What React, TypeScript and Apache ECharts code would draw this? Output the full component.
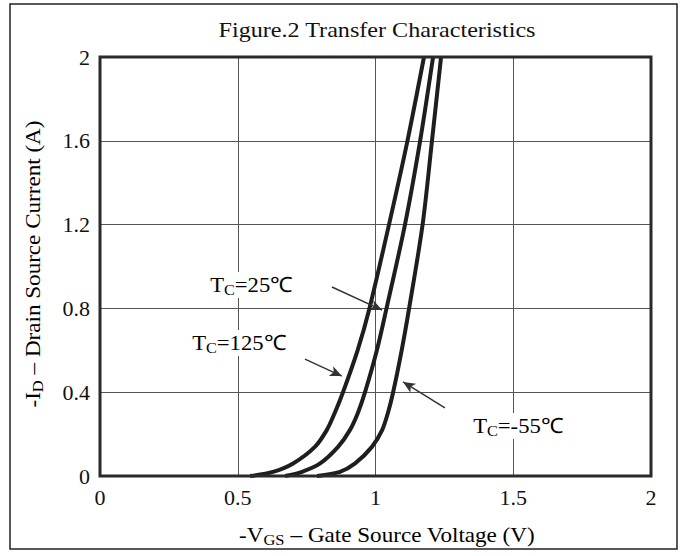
import React, { useEffect, useRef } from "react";
import * as echarts from "echarts";

const xTicks = [0, 0.5, 1, 1.5, 2];
const yTicks = [0, 0.4, 0.8, 1.2, 1.6, 2];

// [-VGS (V), -ID (A)]
const curve125: [number, number][] = [
  [0.545, 0], [0.628, 0.02], [0.701, 0.06], [0.78, 0.139], [0.823, 0.219], [0.852, 0.301],
  [0.882, 0.4], [0.935, 0.6], [0.978, 0.8], [1.049, 1.2], [1.116, 1.6], [1.176, 2.0],
];
const curve25: [number, number][] = [
  [0.672, 0], [0.733, 0.02], [0.799, 0.06], [0.864, 0.139], [0.907, 0.219], [0.936, 0.301],
  [0.962, 0.4], [1.005, 0.6], [1.04, 0.8], [1.107, 1.2], [1.162, 1.6], [1.209, 2.0],
];
const curveM55: [number, number][] = [
  [0.788, 0], [0.871, 0.02], [0.926, 0.06], [0.987, 0.139], [1.024, 0.219], [1.045, 0.301],
  [1.064, 0.4], [1.095, 0.6], [1.122, 0.8], [1.171, 1.2], [1.205, 1.6], [1.238, 2.0],
];

// arrows: [tail, tip] in data coords
const arrow25: [number, number][] = [[0.842, 0.902], [1.024, 0.792]];
const arrow125: [number, number][] = [[0.744, 0.558], [0.878, 0.477]];
const arrowM55: [number, number][] = [[1.252, 0.325], [1.1, 0.449]];

const title = "Figure.2 Transfer Characteristics";
const font = "'Liberation Serif', 'Times New Roman', serif";

export default function App() {
  const ref = useRef<HTMLDivElement>(null);
  useEffect(() => {
    if (!ref.current) return;
    const chart = echarts.init(ref.current, null, { renderer: "svg" });
    const lineColor = "#1e1e1e";
    const mk = (data: [number, number][], arrow: [number, number][]) => ({
      type: "line",
      data,
      smooth: 0.3,
      showSymbol: false,
      symbol: "none",
      lineStyle: { color: lineColor, width: 4 },
      clip: true,
      markLine: {
        silent: true,
        symbol: ["none", "arrow"],
        symbolSize: [8, 12],
        label: { show: false },
        lineStyle: { color: "#333", width: 1.5, type: "solid" },
        data: [[{ coord: arrow[0] }, { coord: arrow[1] }]],
      },
    });
    const rich = {
      a: { fontFamily: font, fontSize: 21, color: "#111", lineHeight: 24 },
      s: { fontFamily: font, fontSize: 15, color: "#111", lineHeight: 8, verticalAlign: "bottom" },
    };
    const label = (x: number, y: number, txt: string) => ({
      type: "text",
      x,
      y,
      z: 100,
      scaleX: 1.08,
      style: {
        text: `{a|T}{s|C}{a|=${txt}℃}`,
        rich,
        align: "left",
        verticalAlign: "middle",
        backgroundColor: "#fff",
        padding: [1, 2],
      },
    });
    chart.setOption({
      animation: false,
      backgroundColor: "#fff",
      grid: {
        left: 100,
        right: 35,
        top: 57,
        bottom: 80,
        show: true,
        borderColor: "#2a2a2a",
        borderWidth: 3,
        z: 10,
      },
      xAxis: {
        type: "value",
        min: 0,
        max: 2,
        interval: 0.5,
        axisLine: { show: false },
        axisTick: { show: false },
        splitLine: { show: true, lineStyle: { color: "#555", width: 1 } },
        axisLabel: {
          fontFamily: font,
          fontSize: 22,
          color: "#111",
          margin: 10,
          formatter: (v: number) => (xTicks.includes(v) ? String(v) : ""),
        },
      },
      yAxis: {
        type: "value",
        min: 0,
        max: 2,
        interval: 0.4,
        axisLine: { show: false },
        axisTick: { show: false },
        splitLine: { show: true, lineStyle: { color: "#555", width: 1 } },
        axisLabel: {
          fontFamily: font,
          fontSize: 22,
          color: "#111",
          margin: 10,
          formatter: (v: number) => {
            const t = yTicks.find((k) => Math.abs(k - v) < 1e-6);
            return t === undefined ? "" : String(t);
          },
        },
      },
      series: [mk(curve125, arrow125), mk(curve25, arrow25), mk(curveM55, arrowM55)],
      graphic: [
        {
          type: "rect",
          shape: { x: 10, y: 4, width: 667, height: 545 },
          style: { fill: "none", stroke: "#222", lineWidth: 1.5 },
          z: 0,
        },
        {
          type: "text",
          x: 377,
          y: 30,
          scaleX: 1.15,
          style: {
            text: title,
            fontFamily: font,
            fontSize: 21,
            fill: "#111",
            align: "center",
            verticalAlign: "middle",
          },
        },
        {
          type: "text",
          x: 387,
          y: 535,
          scaleX: 1.1,
          style: {
            text: "{a|-V}{s|GS}{a| – Gate Source Voltage (V)}",
            rich,
            align: "center",
            verticalAlign: "middle",
          },
        },
        {
          type: "text",
          x: 33,
          y: 264,
          rotation: Math.PI / 2,
          scaleX: 1.1,
          style: {
            text: "{a|-I}{s|D}{a| – Drain Source Current (A)}",
            rich,
            align: "center",
            verticalAlign: "middle",
          },
        },
        label(208, 285, "25"),
        label(190, 343, "125"),
        label(471, 426, "-55"),
      ],
    });
    return () => chart.dispose();
  }, []);
  return (
    <div
      ref={ref}
      style={{ position: "fixed", left: 0, top: 0, width: 686, height: 556 }}
    />
  );
}
